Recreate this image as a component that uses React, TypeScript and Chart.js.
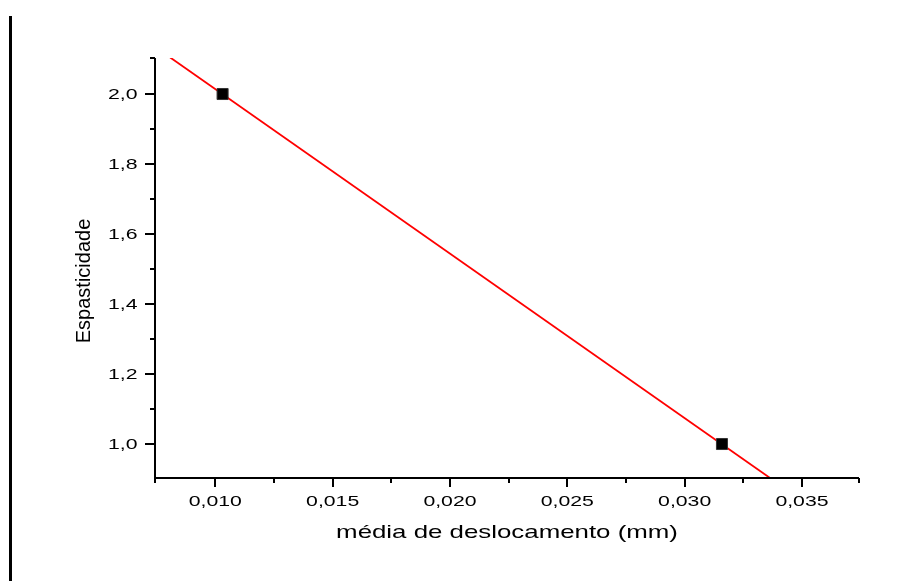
import React, { useEffect, useRef } from "react";
import { Chart, registerables } from "chart.js";

Chart.register(...registerables);

// Measured data points
const pointX = [0.01031, 0.03159];
const pointY = [2.0, 1.0];

// Linear fit line (end points, clipped by the axes)
const fitX = [0.008, 0.034];
const fitY = [2.108, 0.886];

// Axis ranges
const xMin = 0.00743;
const xMax = 0.03743;
const yMin = 0.9029;
const yMax = 2.1029;

// Ticks
const xMajorTicks = [0.01, 0.015, 0.02, 0.025, 0.03, 0.035];
const xTickLabels = ["0,010", "0,015", "0,020", "0,025", "0,030", "0,035"];
const xMinorTicks = [0.0125, 0.0175, 0.0225, 0.0275, 0.0325];
const yMajorTicks = [1.0, 1.2, 1.4, 1.6, 1.8, 2.0];
const yTickLabels = ["1,0", "1,2", "1,4", "1,6", "1,8", "2,0"];
const yMinorTicks = [1.1, 1.3, 1.5, 1.7, 1.9];

const xTitle = "média de deslocamento (mm)";
const yTitle = "Espasticidade";

const FONT = '"Liberation Sans", Arial, sans-serif';

const decorPlugin = {
  id: "decor",
  afterDraw(chart: any) {
    const ctx = chart.ctx as CanvasRenderingContext2D;
    const xs = chart.scales.x;
    const ys = chart.scales.y;
    const area = chart.chartArea;
    ctx.save();
    // left page bar
    ctx.fillStyle = "#000";
    ctx.fillRect(9, 16, 3, 581 - 16);

    ctx.strokeStyle = "#000";
    ctx.lineWidth = 2;
    ctx.lineCap = "butt";
    // axis lines
    ctx.beginPath();
    ctx.moveTo(area.left, area.top);
    ctx.lineTo(area.left, area.bottom + 1);
    ctx.moveTo(area.left - 1, area.bottom);
    ctx.lineTo(area.right, area.bottom);
    ctx.stroke();

    const majorLen = 9;
    const minorLen = 5;
    ctx.beginPath();
    // x ticks
    xMajorTicks.forEach((v) => {
      const px = Math.round(xs.getPixelForValue(v));
      ctx.moveTo(px, area.bottom);
      ctx.lineTo(px, area.bottom + majorLen);
    });
    [...xMinorTicks, xMin, xMax].forEach((v) => {
      const px = Math.round(xs.getPixelForValue(v));
      ctx.moveTo(px, area.bottom);
      ctx.lineTo(px, area.bottom + minorLen);
    });
    // y ticks
    yMajorTicks.forEach((v) => {
      const py = Math.round(ys.getPixelForValue(v));
      ctx.moveTo(area.left, py);
      ctx.lineTo(area.left - majorLen - 1, py);
    });
    [...yMinorTicks, yMax].forEach((v) => {
      const py = Math.round(ys.getPixelForValue(v));
      ctx.moveTo(area.left, py);
      ctx.lineTo(area.left - minorLen, py);
    });
    ctx.stroke();

    // tick labels (horizontally stretched like the original export)
    const stretch = 1.37;
    ctx.fillStyle = "#000";
    ctx.font = `15.5px ${FONT}`;
    ctx.textBaseline = "middle";
    ctx.textAlign = "center";
    xMajorTicks.forEach((v, i) => {
      const px = xs.getPixelForValue(v);
      ctx.save();
      ctx.translate(px, 502);
      ctx.scale(stretch, 1);
      ctx.fillText(xTickLabels[i], 0, 0);
      ctx.restore();
    });
    ctx.textAlign = "right";
    yMajorTicks.forEach((v, i) => {
      const py = ys.getPixelForValue(v);
      ctx.save();
      ctx.translate(137.5, py + 0.5);
      ctx.scale(stretch, 1);
      ctx.fillText(yTickLabels[i], 0, 0);
      ctx.restore();
    });

    // x title
    ctx.font = `19px ${FONT}`;
    ctx.textAlign = "center";
    ctx.save();
    ctx.translate((area.left + area.right) / 2, 533);
    ctx.scale(1.36, 1);
    ctx.fillText(xTitle, 0, 0);
    ctx.restore();

    // y title
    ctx.font = `20px ${FONT}`;
    ctx.save();
    ctx.translate(84, 281);
    ctx.rotate(-Math.PI / 2);
    ctx.fillText(yTitle, 0, 0);
    ctx.restore();

    ctx.restore();
  },
};

export default function App() {
  const ref = useRef<HTMLCanvasElement | null>(null);
  useEffect(() => {
    if (!ref.current) return;
    const chart = new Chart(ref.current, {
      type: "scatter",
      data: {
        datasets: [
          {
            type: "line",
            label: "fit",
            data: fitX.map((x, i) => ({ x, y: fitY[i] })),
            borderColor: "#ff0000",
            borderWidth: 1.8,
            pointRadius: 0,
            fill: false,
            tension: 0,
            order: 2,
          },
          {
            type: "scatter",
            label: "data",
            data: pointX.map((x, i) => ({ x, y: pointY[i] })),
            pointStyle: "rect",
            pointRadius: 7.8,
            backgroundColor: "#000",
            borderColor: "#333",
            borderWidth: 1,
            order: 1,
          },
        ],
      },
      options: {
        responsive: false,
        animation: false,
        events: [],
        layout: { padding: { top: 58, right: 41, left: 0, bottom: 0 } },
        plugins: {
          legend: { display: false },
          tooltip: { enabled: false },
          title: { display: false },
        },
        scales: {
          x: {
            type: "linear",
            min: xMin,
            max: xMax,
            grid: { display: false, drawTicks: false },
            border: { display: false },
            ticks: { display: false },
            afterFit: (s: any) => {
              s.height = 103;
            },
          },
          y: {
            type: "linear",
            min: yMin,
            max: yMax,
            grid: { display: false, drawTicks: false },
            border: { display: false },
            ticks: { display: false },
            afterFit: (s: any) => {
              s.width = 155;
            },
          },
        },
      },
      plugins: [decorPlugin],
    } as any);
    return () => chart.destroy();
  }, []);
  return (
    <div style={{ position: "fixed", left: 0, top: 0, width: 900, height: 581, background: "#fff" }}>
      <canvas ref={ref} width={900} height={581} style={{ display: "block" }} />
    </div>
  );
}
